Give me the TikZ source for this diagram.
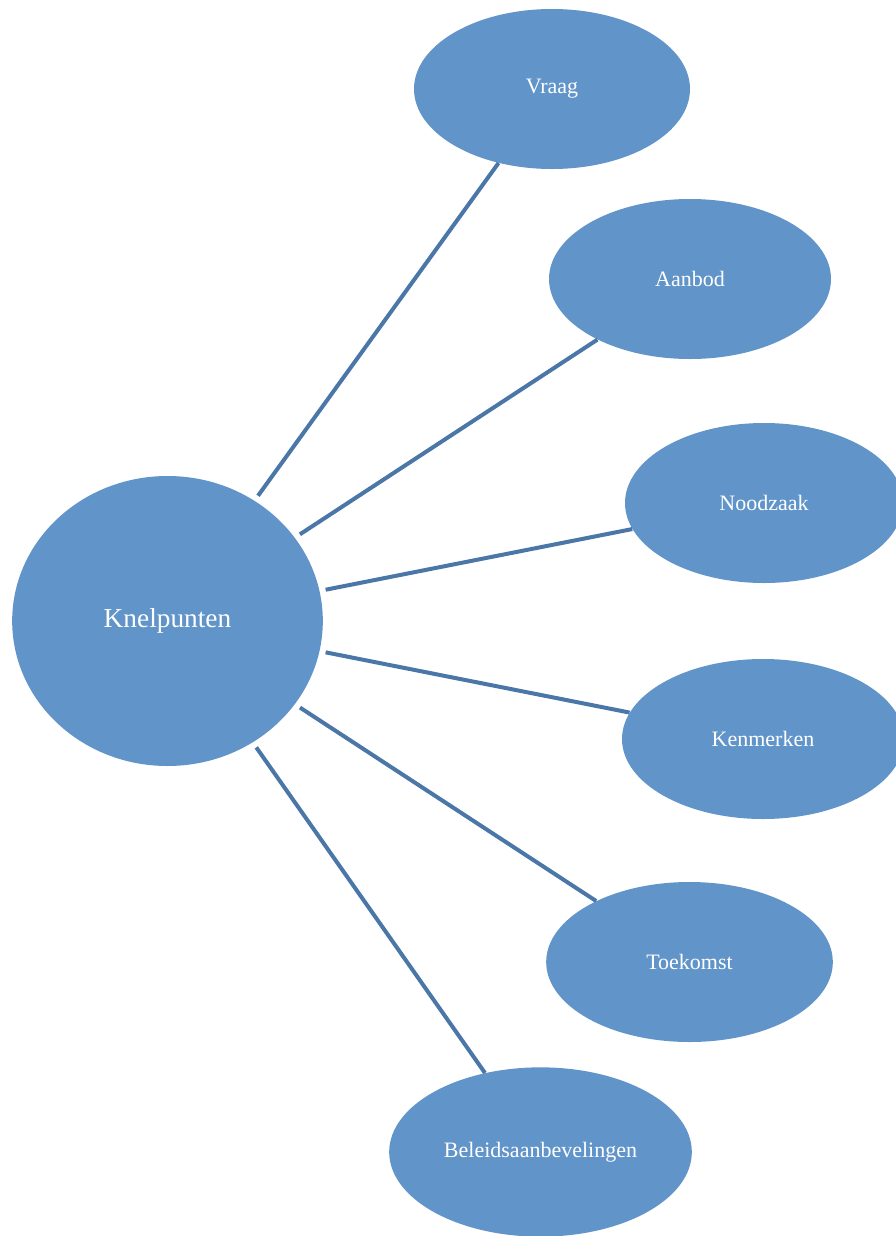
\documentclass[tikz,border=0pt]{standalone}
\usepackage{fontspec}
\setmainfont{Liberation Serif}
\usetikzlibrary{shapes.geometric}
\definecolor{bubble}{RGB}{97,149,201}
\definecolor{spoke}{RGB}{74,118,168}
\tikzset{
  topic/.style={shape=ellipse,fill=bubble,text=white,inner sep=0pt,
                minimum width=210pt,minimum height=120pt,font=\fontsize{16.5}{18}\selectfont},
  link/.style={draw=spoke,line width=3pt}
}
\begin{document}
\begin{tikzpicture}[x=0.75pt,y=-0.75pt]
  \useasboundingbox (0,0) rectangle (896,1236);

  \node (knel) at (167.5,621) [topic,minimum width=233pt,minimum height=217.5pt,
                               font=\fontsize{20.5}{24}\selectfont] {Knelpunten};

  \node (vraag)     at (552,89)    [topic,minimum width=207pt] {Vraag};
  \node (aanbod)    at (690,279)   [topic,minimum width=211.5pt] {Aanbod};
  \node (noodzaak)  at (764,503)   [topic,minimum width=208.5pt] {Noodzaak};
  \node (kenmerken) at (763,739)   [topic,minimum width=211.5pt] {Kenmerken};
  \node (toekomst)  at (689.5,962) [topic,minimum width=215pt] {Toekomst};
  \node (beleid)    at (540.5,1152) [topic,minimum width=227pt,minimum height=127pt] {Beleidsaanbevelingen};

  \draw [link,shorten <=4.5pt] (knel) -- (vraag);
  \draw [link,shorten <=4.5pt] (knel) -- (aanbod);
  \draw [link,shorten <=4.5pt] (knel) -- (noodzaak);
  \draw [link,shorten <=4.5pt] (knel) -- (kenmerken);
  \draw [link,shorten <=4.5pt] (knel) -- (toekomst);
  \draw [link,shorten <=4.5pt] (knel) -- (beleid);
\end{tikzpicture}
\end{document}
